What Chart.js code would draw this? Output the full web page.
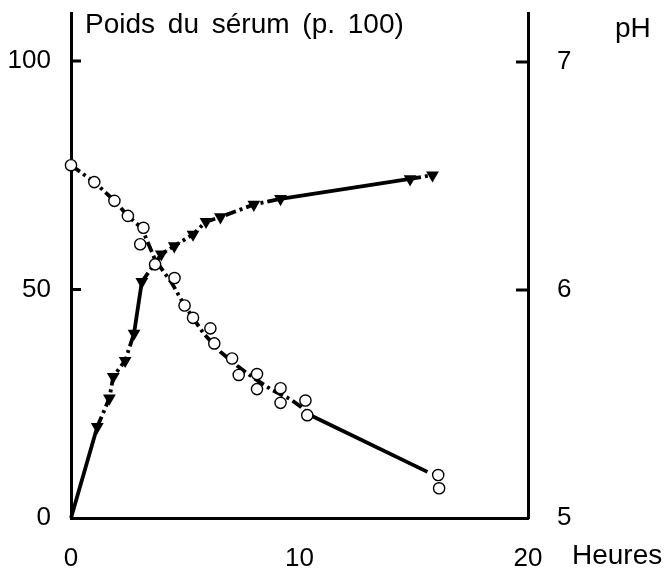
<!DOCTYPE html>
<html>
<head>
<meta charset="utf-8">
<script src="https://cdn.jsdelivr.net/npm/chart.js@4/dist/chart.umd.min.js"></script>
<style>
  html, body { margin: 0; padding: 0; background: #fff; }
  #c { display: block; }
</style>
</head>
<body>
<canvas id="c" width="664" height="568"></canvas>
<script>
// ---- Data ----
// Serum weight (% , left axis) — open circles
const serumHours  = [0, 1.02, 1.90, 2.49, 3.03, 3.17, 3.68, 4.53, 4.97, 5.34, 6.10, 6.27, 7.05, 7.34, 8.14, 8.14, 9.17, 9.17, 10.26, 10.34, 16.07, 16.11];
const serumWeight = [77.2, 73.5, 69.4, 66.1, 59.9, 63.5, 55.5, 52.5, 46.5, 43.8, 41.5, 38.2, 34.9, 31.3, 31.5, 28.2, 28.4, 25.2, 25.7, 22.5, 9.4, 6.5];
// Drawn trend line through the serum points
const serumLineHours  = [0, 1.02, 1.90, 2.49, 3.10, 3.68, 4.40, 4.97, 5.34, 5.80, 6.53, 7.27, 8.00, 8.80, 9.60, 10.04, 10.48, 15.60];
const serumLineWeight = [77.2, 73.5, 69.4, 66.1, 63.4, 56.5, 51.5, 46.5, 43.8, 40.4, 36.4, 33.3, 30.6, 28.0, 26.0, 24.4, 22.5, 10.1];
// pH (right axis) — filled down triangles; first value is the line origin
const phHours = [0, 1.15, 1.68, 1.85, 2.37, 2.76, 3.10, 3.95, 4.52, 5.34, 5.91, 6.54, 8.00, 9.17, 14.84, 15.82];
const phValues = [5.0, 5.40, 5.525, 5.62, 5.69, 5.81, 6.036, 6.157, 6.193, 6.244, 6.30, 6.32, 6.375, 6.40, 6.487, 6.504];
// Axis ticks
const xTicks = [0, 10, 20];
const leftTicks = [0, 50, 100];
const rightTicks = [5, 6, 7];
// Texts
const titleText = 'Poids du sérum (p. 100)';
const rightTitle = 'pH';
const xTitle = 'Heures';

const FONT = '"Liberation Sans", Arial, Helvetica, sans-serif';
const FS = 26;
const FT = 28;
const DASH = [11, 4, 3, 4];

const toXY = (xs, ys) => xs.map((x, i) => ({ x, y: ys[i] }));

// solid segments (by starting index)
const phSolid = new Set([0, 5, 13]);
const serumSolid = new Set([16]);

const tickMarks = {
  id: 'tickMarks',
  afterDraw(chart) {
    const ctx = chart.ctx;
    const ca = chart.chartArea;
    const yl = chart.scales.y, yr = chart.scales.y2;
    ctx.save();
    ctx.strokeStyle = '#000';
    ctx.lineWidth = 3;
    ctx.beginPath();
    [50, 100].forEach(v => {
      const py = yl.getPixelForValue(v);
      ctx.moveTo(ca.left, py); ctx.lineTo(ca.left + 10, py);
    });
    [6, 7].forEach(v => {
      const py = yr.getPixelForValue(v);
      ctx.moveTo(ca.right - 12, py); ctx.lineTo(ca.right, py);
    });
    ctx.stroke();

    ctx.fillStyle = '#000';
    ctx.font = FT + 'px ' + FONT;
    ctx.textBaseline = 'alphabetic';
    ctx.textAlign = 'left';
    try { ctx.wordSpacing = '5px'; } catch (e) {}
    ctx.fillText(titleText, 85, 33);
    try { ctx.wordSpacing = '0px'; } catch (e) {}
    ctx.fillText(rightTitle, 615, 37);
    ctx.fillText(xTitle, 572, 564);
    ctx.restore();
  }
};

const noPad = s => { s.paddingTop = 0; s.paddingBottom = 0; s.paddingLeft = 0; s.paddingRight = 0; };

new Chart(document.getElementById('c'), {
  type: 'scatter',
  data: {
    datasets: [
      {
        label: 'Poids du sérum',
        data: toXY(serumHours, serumWeight),
        yAxisID: 'y',
        showLine: false,
        pointStyle: 'circle',
        pointRadius: 5.6,
        pointBorderWidth: 1.4,
        pointBackgroundColor: '#fff',
        pointBorderColor: '#000',
        order: 0,
        clip: 10
      },
      {
        label: 'pH',
        data: toXY(phHours, phValues),
        yAxisID: 'y2',
        showLine: true,
        borderColor: '#000',
        borderWidth: 3.8,
        pointStyle: 'triangle',
        pointRotation: 180,
        pointRadius: phHours.map((h, i) => i === 0 ? 0 : 7.4),
        pointBackgroundColor: '#000',
        pointBorderColor: '#000',
        pointBorderWidth: 0,
        tension: 0,
        segment: {
          borderDash: ctx => phSolid.has(ctx.p0DataIndex) ? [] : DASH
        },
        order: 1,
        clip: 10
      },
      {
        label: 'Courbe sérum',
        data: toXY(serumLineHours, serumLineWeight),
        yAxisID: 'y',
        showLine: true,
        borderColor: '#000',
        borderWidth: 3.8,
        pointRadius: 0,
        tension: 0,
        segment: {
          borderDash: ctx => serumSolid.has(ctx.p0DataIndex) ? [] : DASH
        },
        order: 2,
        clip: 10
      }
    ]
  },
  options: {
    responsive: false,
    animation: false,
    devicePixelRatio: 1,
    layout: { padding: { top: 13, left: 0, right: 0, bottom: 0 } },
    plugins: { legend: { display: false }, tooltip: { enabled: false } },
    scales: {
      x: {
        type: 'linear',
        position: 'bottom',
        min: 0, max: 20,
        afterBuildTicks: s => { s.ticks = xTicks.map(v => ({ value: v })); },
        afterFit: s => { s.height = 50; noPad(s); },
        grid: { display: false, drawTicks: false },
        border: { display: true, color: '#000', width: 3 },
        ticks: { color: '#000', font: { family: FONT, size: FS }, padding: 25, maxRotation: 0 }
      },
      y: {
        type: 'linear',
        position: 'left',
        min: 0, max: 110.5,
        afterBuildTicks: s => { s.ticks = leftTicks.map(v => ({ value: v })); },
        afterFit: s => { s.width = 71; noPad(s); },
        grid: { display: false, drawTicks: false },
        border: { display: true, color: '#000', width: 3 },
        ticks: { color: '#000', font: { family: FONT, size: FS }, padding: 20 }
      },
      y2: {
        type: 'linear',
        position: 'right',
        min: 5, max: 7.215,
        afterBuildTicks: s => { s.ticks = rightTicks.map(v => ({ value: v })); },
        afterFit: s => { s.width = 136; noPad(s); },
        grid: { display: false, drawTicks: false },
        border: { display: true, color: '#000', width: 3 },
        ticks: { color: '#000', font: { family: FONT, size: FS }, padding: 29 }
      }
    }
  },
  plugins: [tickMarks]
});
</script>
</body>
</html>
